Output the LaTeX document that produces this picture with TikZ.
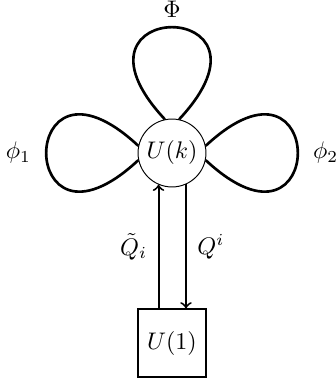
\documentclass[tikz,border=0pt]{standalone}
\usepackage{amsmath}
\usepackage{amssymb}
\usetikzlibrary{positioning}

\begin{document}
\begin{tikzpicture}[
  state/.style={draw,circle,inner sep=0pt,minimum size=28.3pt},
  base/.style={draw,semithick,inner sep=0pt,minimum size=28.3pt},
  petal/.style={line width=1.1pt},
  flow/.style={->,thick},
]
\useasboundingbox (-71.67pt,-94.17pt) rectangle (67.92pt,63.75pt);
% ---- level k and the base level ----
\node[state] (uk) {$U(k)$};
\node[base,below=50.4pt of uk] (u1) {$U(1)$};
% ---- self-loops round U(k) ----
\draw[petal] (uk.102) to[out=133,in=47,distance=70pt] node[above]{$\Phi$} (uk.78);
\draw[petal] (uk.192) to[out=223,in=137,distance=70pt] node[left=2.5pt]{$\phi_1$} (uk.168);
\draw[petal] (uk.12) to[out=43,in=-43,distance=70pt] node[right=2.5pt]{$\phi_2$} (uk.-12);
% ---- up and down between the levels ----
\draw[flow] (uk.247.5 |- u1.north) -- (uk.247.5) node[midway,left=1pt]{$\tilde{Q}_i$};
\draw[flow] (uk.294) -- (uk.294 |- u1.north) node[midway,right=1pt]{$Q^i$};
\end{tikzpicture}
\end{document}
